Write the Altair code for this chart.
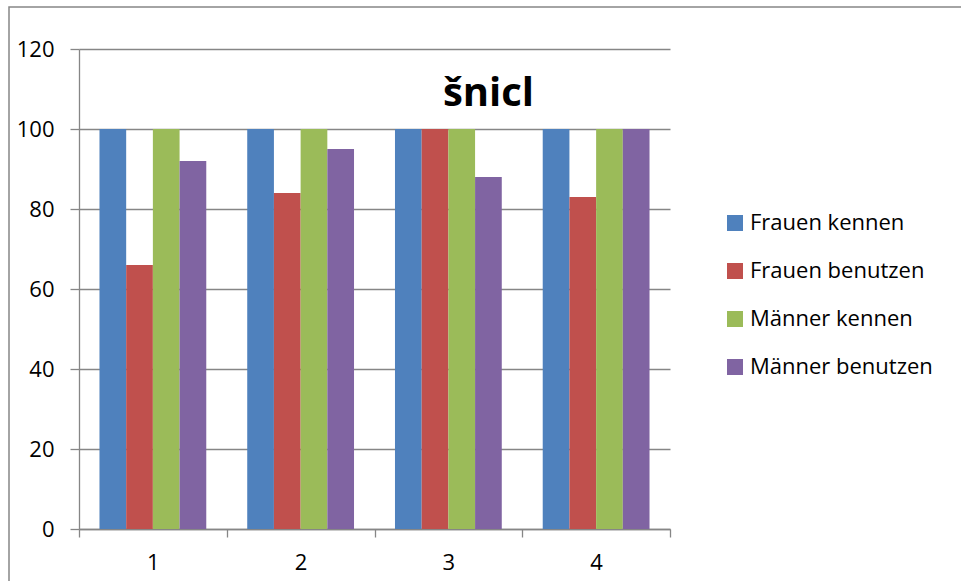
import altair as alt
import pandas as pd

# survey groups on the x axis
groups = ["1", "2", "3", "4"]
# series names, in legend order
series = ["Frauen kennen", "Frauen benutzen", "Männer kennen", "Männer benutzen"]
colors = ["#4F81BD", "#C0504D", "#9BBB59", "#8064A2"]

frauen_kennen = [100, 100, 100, 100]
frauen_benutzen = [66, 84, 100, 83]
maenner_kennen = [100, 100, 100, 100]
maenner_benutzen = [92, 95, 88, 100]

y_ticks = [0, 20, 40, 60, 80, 100, 120]
chart_title = "šnicl"

values_by_series = [frauen_kennen, frauen_benutzen, maenner_kennen, maenner_benutzen]
rows = []
for name, vals in zip(series, values_by_series):
    for g, v in zip(groups, vals):
        rows.append({"gruppe": g, "serie": name, "wert": v})
df = pd.DataFrame(rows)

FONT = "Open Sans"
GRAY = "#868686"

bars = alt.Chart(df).mark_bar().encode(
    x=alt.X(
        "gruppe:N",
        sort=groups,
        title=None,
        scale=alt.Scale(paddingInner=0, paddingOuter=0),
        axis=alt.Axis(
            labelAngle=0,
            tickBand="extent",
            tickSize=8,
            tickColor=GRAY,
            domainColor=GRAY,
            labelPadding=15,
            grid=False,
        ),
    ),
    xOffset=alt.XOffset(
        "serie:N",
        sort=series,
        scale=alt.Scale(paddingInner=0, paddingOuter=0.767),
    ),
    y=alt.Y(
        "wert:Q",
        title=None,
        scale=alt.Scale(domain=[0, 120], nice=False),
        axis=alt.Axis(
            values=y_ticks,
            tickSize=9,
            tickColor=GRAY,
            domainColor=GRAY,
            gridColor=GRAY,
            gridWidth=1.3,
            labelPadding=16,
        ),
    ),
    color=alt.Color(
        "serie:N",
        sort=series,
        scale=alt.Scale(domain=series, range=colors),
        legend=alt.Legend(
            title=None,
            orient="none",
            legendX=645,
            legendY=163,
            symbolType="square",
            symbolSize=256,
            symbolStrokeWidth=0,
            labelOffset=4,
            labelLimit=400,
            rowPadding=26,
            padding=0,
        ),
    ),
)

# chart heading, centred over the whole chart object
heading = alt.Chart(pd.DataFrame({"t": [chart_title]})).mark_text(
    font=FONT, fontSize=40, fontWeight="bold", color="#000000",
    align="center", baseline="alphabetic",
).encode(
    text="t:N", x=alt.value(409.5), y=alt.value(57)
)

# outer frame around the whole chart object
frame = alt.Chart(pd.DataFrame({"k": [0]})).mark_rect(
    fill=None, stroke=GRAY, strokeWidth=1.5, clip=False
).encode(
    x=alt.value(-70), x2=alt.value(1000), y=alt.value(-42), y2=alt.value(700)
)

chart = alt.layer(bars, heading, frame).properties(
    width=591,
    height=480,
    padding={"left": 79, "top": 49, "right": 291, "bottom": 52},
    autosize=alt.AutoSizeParams(type="none"),
).configure(
    background="white",
    font=FONT,
).configure_view(
    stroke=None,
).configure_axis(
    labelFont=FONT,
    labelFontSize=22,
    labelColor="#000000",
    domainWidth=1.3,
    tickWidth=1.3,
).configure_legend(
    labelFont=FONT,
    labelFontSize=22,
    labelColor="#000000",
)

chart.save("out.html", embed_options={"renderer": "svg", "actions": False})
